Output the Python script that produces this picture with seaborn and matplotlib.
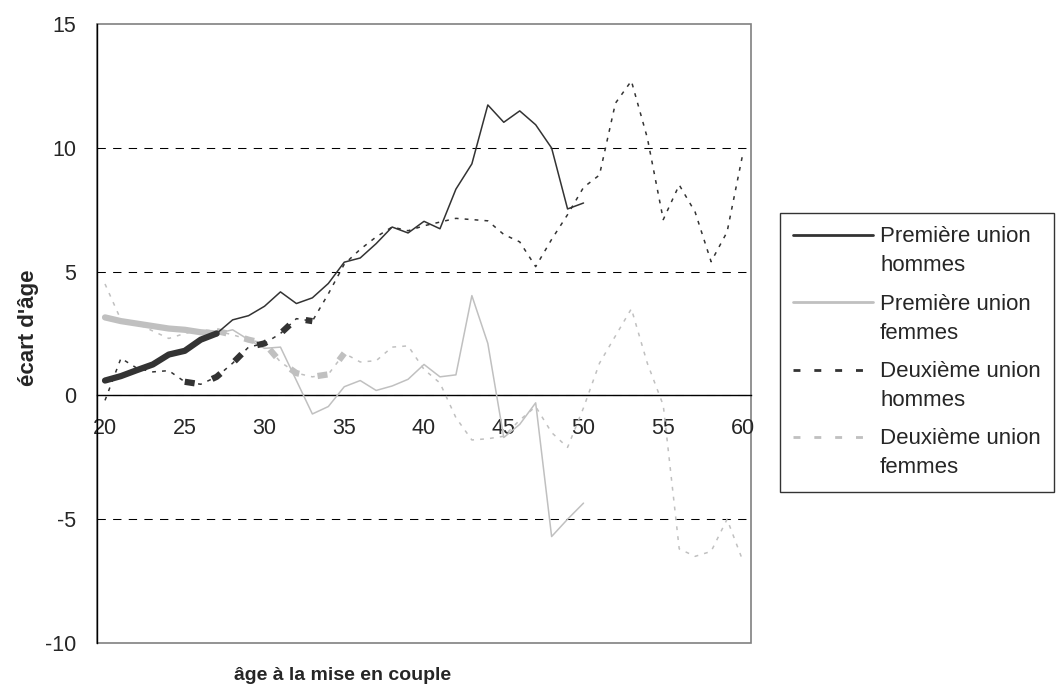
import numpy as np
import pandas as pd
import matplotlib
matplotlib.use("Agg")
import matplotlib.pyplot as plt
from matplotlib.lines import Line2D
from matplotlib.patches import Rectangle
from matplotlib.legend_handler import HandlerLine2D
import seaborn as sns

# ages (categories on the x axis)
ages = list(range(20, 61))

# écart d'âge, première union (20 à 50 ans)
premiere_hommes = [0.6, 0.78, 1.02, 1.25, 1.65, 1.8, 2.25, 2.5, 3.05, 3.22, 3.6,
                   4.18, 3.71, 3.94, 4.52, 5.38, 5.55, 6.13, 6.8, 6.56, 7.03,
                   6.73, 8.33, 9.35, 11.73, 11.03, 11.49, 10.93, 9.99, 7.53, 7.77]
premiere_femmes = [3.15, 3.0, 2.9, 2.8, 2.7, 2.65, 2.55, 2.5, 2.65, 2.25, 1.9,
                   1.95, 0.6, -0.75, -0.45, 0.35, 0.6, 0.2, 0.38, 0.65, 1.25,
                   0.75, 0.83, 4.03, 2.1, -1.7, -1.17, -0.3, -5.7, -5.0, -4.35]

# écart d'âge, deuxième union (20 à 60 ans)
deuxieme_hommes = [-0.2, 1.5, 1.1, 0.95, 1.0, 0.55, 0.45, 0.75, 1.3, 1.95, 2.1,
                   2.5, 3.1, 3.0, 4.1, 5.3, 5.9, 6.4, 6.8, 6.65, 6.85,
                   7.0, 7.15, 7.1, 7.05, 6.5, 6.2, 5.2, 6.3, 7.3, 8.4,
                   8.9, 11.8, 12.7, 10.4, 7.1, 8.5, 7.4, 5.4, 6.6, 9.8]
deuxieme_femmes = [4.5, 3.05, 2.9, 2.6, 2.3, 2.5, 2.65, 2.6, 2.45, 2.25, 2.1,
                   1.35, 0.9, 0.75, 0.85, 1.7, 1.35, 1.4, 1.95, 2.0, 1.05,
                   0.5, -0.9, -1.8, -1.75, -1.65, -1.0, -0.45, -1.5, -2.1, -0.5,
                   1.3, 2.4, 3.5, 1.3, -0.4, -6.2, -6.5, -6.3, -5.0, -6.7]

# ages where each curve is drawn bold
epais_premiere = (20, 27)
epais_deux_h = (25, 33)
epais_deux_f = (27, 35)

labels = ["Première union\nhommes", "Première union\nfemmes",
          "Deuxième union\nhommes", "Deuxième union\nfemmes"]

fonce = "#333333"
clair = "#c0c0c0"

sns.set_style("white")
plt.rcParams['font.family'] = ['Liberation Sans', 'DejaVu Sans']
plt.rcParams['axes.unicode_minus'] = False

df_p = pd.DataFrame({'age': ages[:len(premiere_hommes)],
                     'hommes': premiere_hommes, 'femmes': premiere_femmes})
df_d = pd.DataFrame({'age': ages, 'hommes': deuxieme_hommes,
                     'femmes': deuxieme_femmes})

fig = plt.figure(figsize=(10.57, 6.95), dpi=100)
ax = fig.add_axes([0.0918, 0.0748, 0.6187, 0.8907])

thin_dash = (0, (2.5, 4))
thick_dash = (0, (1.6, 3.0))


def trace(df, col, color, ls, zone, z):
    sns.lineplot(data=df, x='age', y=col, color=color, linewidth=1.1,
                 linestyle=ls, ax=ax, zorder=z, legend=False)
    part = df[(df['age'] >= zone[0]) & (df['age'] <= zone[1])]
    sns.lineplot(data=part, x='age', y=col, color=color, linewidth=4.5,
                 linestyle=thick_dash if ls != '-' else '-', ax=ax,
                 zorder=z + 0.5, legend=False)


trace(df_d, 'femmes', clair, thin_dash, epais_deux_f, 3)
trace(df_p, 'femmes', clair, '-', epais_premiere, 4)
trace(df_d, 'hommes', fonce, thin_dash, epais_deux_h, 5)
trace(df_p, 'hommes', fonce, '-', epais_premiere, 6)

ax.set_xlim(19.5, 60.5)
ax.set_ylim(-10, 15)

# axes: x axis crossing at 0, grey frame around plot area
ax.spines['bottom'].set_position(('data', 0))
for s in ['top', 'right']:
    ax.spines[s].set_visible(False)
ax.spines['left'].set_color('black')
ax.spines['bottom'].set_color('black')
ax.spines['left'].set_linewidth(1)
ax.spines['bottom'].set_linewidth(1)
ax.add_patch(Rectangle((0, 0), 1, 1, transform=ax.transAxes, fill=False,
                       ec='#808080', lw=1.2, zorder=0.5, clip_on=False))

ax.set_xticks(range(20, 61, 5))
ax.set_xticks(np.arange(19.5, 61, 1), minor=True)
ax.tick_params(axis='x', which='major', length=0, pad=16, labelsize=15.5)
ax.tick_params(axis='x', which='minor', length=4.5, width=0.8,
               direction='out', color='black')
ax.set_yticks(range(-10, 16, 5))
ax.tick_params(axis='y', length=5, width=0.8, direction='out', pad=10,
               labelsize=15.5, color='black')

ax.yaxis.grid(True, linestyle=(0, (8, 7)), color='black', linewidth=0.75)
ax.xaxis.grid(False)
gl = ax.yaxis.get_gridlines()
gl[0].set_visible(False)
gl[-1].set_visible(False)
ax.set_axisbelow(True)

ax.set_xlabel("âge à la mise en couple", fontweight='bold', fontsize=14)
ax.xaxis.label.set_va('center')
ax.xaxis.set_label_coords(0.375, -0.053)
ax.set_ylabel("écart d'âge", fontweight='bold', fontsize=16)
ax.yaxis.set_label_coords(-0.088, 0.51)


# legend line drawn next to the first line of each two-line label
class FirstLineHandler(HandlerLine2D):
    def __init__(self, shift, **kw):
        super().__init__(**kw)
        self.shift = shift

    def create_artists(self, legend, orig_handle, xdescent, ydescent,
                       width, height, fontsize, trans):
        return super().create_artists(legend, orig_handle, xdescent,
                                      ydescent - 2 * self.shift, width,
                                      height, fontsize, trans)


leg_size = 16
leg_ls = 1.5
handles = [Line2D([], [], color=fonce, lw=2),
           Line2D([], [], color=clair, lw=2),
           Line2D([], [], color=fonce, lw=2, ls=(0, (2.5, 5))),
           Line2D([], [], color=clair, lw=2, ls=(0, (2.5, 5)))]
leg = ax.legend(handles, labels, loc='upper left',
                bbox_to_anchor=(780 / 1057, 1 - 213 / 695),
                bbox_transform=fig.transFigure, borderaxespad=0,
                fontsize=leg_size, handlelength=3.6, handletextpad=0.3,
                borderpad=0.6, labelspacing=0.78, frameon=True,
                fancybox=False, shadow=False,
                handler_map={Line2D: FirstLineHandler(leg_ls * leg_size / 2)})
for t in leg.get_texts():
    t.set_linespacing(leg_ls)
leg.get_frame().set_edgecolor('black')
leg.get_frame().set_linewidth(1)

fig.savefig("out.png", dpi=100)
